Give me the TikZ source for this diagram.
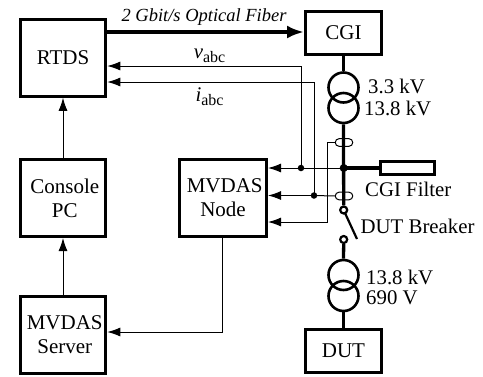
\documentclass[tikz,border=0pt]{standalone}
\usepackage{fontspec}
\setmainfont{Liberation Serif}
\usetikzlibrary{arrows.meta}
\newcommand{\nudge}{\hspace*{3.5pt}}
\newcommand{\abcsub}{\raisebox{-4pt}{\fontsize{16}{16}\selectfont abc}}
\tikzset{
 x=1pt,y=-1pt,
 blk/.style={draw,line width=3pt,minimum width=#1,inner sep=0pt,align=center,font=\fontsize{21}{24}\selectfont},
 blk/.default=85pt,
 sig/.style={line width=1pt,-{Latex[length=13pt,width=9pt]}},
 wire/.style={line width=1pt},
 bus/.style={line width=3.3pt},
 tr/.style={draw,line width=2.6pt,circle,minimum size=30pt,inner sep=0pt},
 ct/.style={draw,line width=1pt,rounded corners=3.8pt,minimum width=17.5pt,minimum height=7.6pt,inner sep=0pt},
 dot/.style={circle,fill=black,inner sep=0pt},
 term/.style={draw,line width=2.2pt,circle,fill=white,minimum size=7pt,inner sep=0pt},
 lab/.style={inner sep=0pt,font=\fontsize{20.8}{24}\selectfont},
}
\begin{document}
\begin{tikzpicture}
\useasboundingbox (0,0) rectangle (483,376);
\node[blk=85.5pt,minimum height=76.5pt] (rtds) at (63,58) {RTDS};
\node[blk=85.5pt,minimum height=77pt] (pc) at (63,198) {\nudge Console\\\nudge PC};
\node[blk=85.5pt,minimum height=77pt] (srv) at (63,335) {\nudge MVDAS\\\nudge Server};
\node[blk=87pt,minimum height=77pt] (node) at (223,198) {\nudge MVDAS\\Node};
\node[blk=76pt,minimum height=43pt] (cgi) at (343.5,33) {CGI};
\node[blk=76pt,minimum height=43pt] (dut) at (343.5,351) {DUT};
\node[draw,line width=3pt,minimum width=54pt,minimum height=13pt,inner sep=0pt] (flt) at (407.5,168) {};
% transformers
\node[tr] (t1a) at (343.5,87.5) {};
\node[tr] (t1b) at (343.5,108) {};
\node[tr] (t2a) at (343.5,275) {};
\node[tr] (t2b) at (343.5,296) {};
% bus
\coordinate (bj) at (343.7,168);
\node[term] (b1) at (343.7,210) {};
\node[term] (b2) at (343.7,239.5) {};
\draw[bus] (cgi.south) -- (t1a.north);
\draw[bus] (t1b.south) -- (b1.north);
\draw[bus] (b2.south) -- (t2a.north);
\draw[bus] (t2b.south) -- (dut.north);
\draw[bus] (bj) -- (flt.west);
\coordinate (bl) at (357,239);
\coordinate (bt) at (345,213);
\draw[line width=2.2pt] (bt) -- (bl);
\node[dot,minimum size=8pt] at (bj) {};
\node[ct] (ct1) at (344,142.5) {};
\node[ct] (ct2) at (344,196) {};
% signals
\coordinate (v1) at (301,66);
\coordinate (i1) at (314,82);
\coordinate (n1) at (301,168);
\coordinate (n2) at (314,195.5);
\coordinate (c1) at (327.5,142.5);
\coordinate (c2) at (327.5,222);
\coordinate (m1) at (222,332);
\node[dot,minimum size=6.5pt] at (n1) {};
\node[dot,minimum size=6.5pt] at (n2) {};
\draw[line width=3.6pt,-{Latex[length=17pt,width=13pt]}] (rtds.east |- 0,32) -- (cgi.west |- 0,32);
\draw[sig] (n1) -- (v1) -- (rtds.east |- v1);
\draw[sig] (n2) -- (i1) -- (rtds.east |- i1);
\draw[sig] (bj) -- (node.east |- bj);
\draw[wire] (n2) -- (ct2.west);
\draw[sig] (n2) -- (node.east |- n2);
\draw[sig] (ct1.west) -- (c1) -- (c2) -- (node.east |- c2);
\draw[sig] (node.south -| m1) -- (m1) -- (srv.east |- m1);
\draw[sig] (pc.north) -- (rtds.south);
\draw[sig] (srv.north) -- (pc.south);
% labels
\node[lab,font=\fontsize{18.5}{22}\selectfont\itshape] (tf) at (204,17) {2 Gbit/s Optical Fiber};
\node[lab] (lv) at (209.5,56) {\textit{v}\abcsub};
\node[lab] (li) at (209.5,97) {\textit{i}\abcsub};
\node[lab,anchor=west] (l1) at (368,86) {3.3 kV};
\node[lab,anchor=west] (l2) at (364,108.5) {13.8 kV};
\node[lab,anchor=west] (l3) at (365,189.5) {CGI Filter};
\node[lab,anchor=west] (l4) at (360.5,226) {DUT Breaker};
\node[lab,anchor=west] (l5) at (366,277) {13.8 kV};
\node[lab,anchor=west] (l6) at (366,298) {690 V};
\end{tikzpicture}
\end{document}
